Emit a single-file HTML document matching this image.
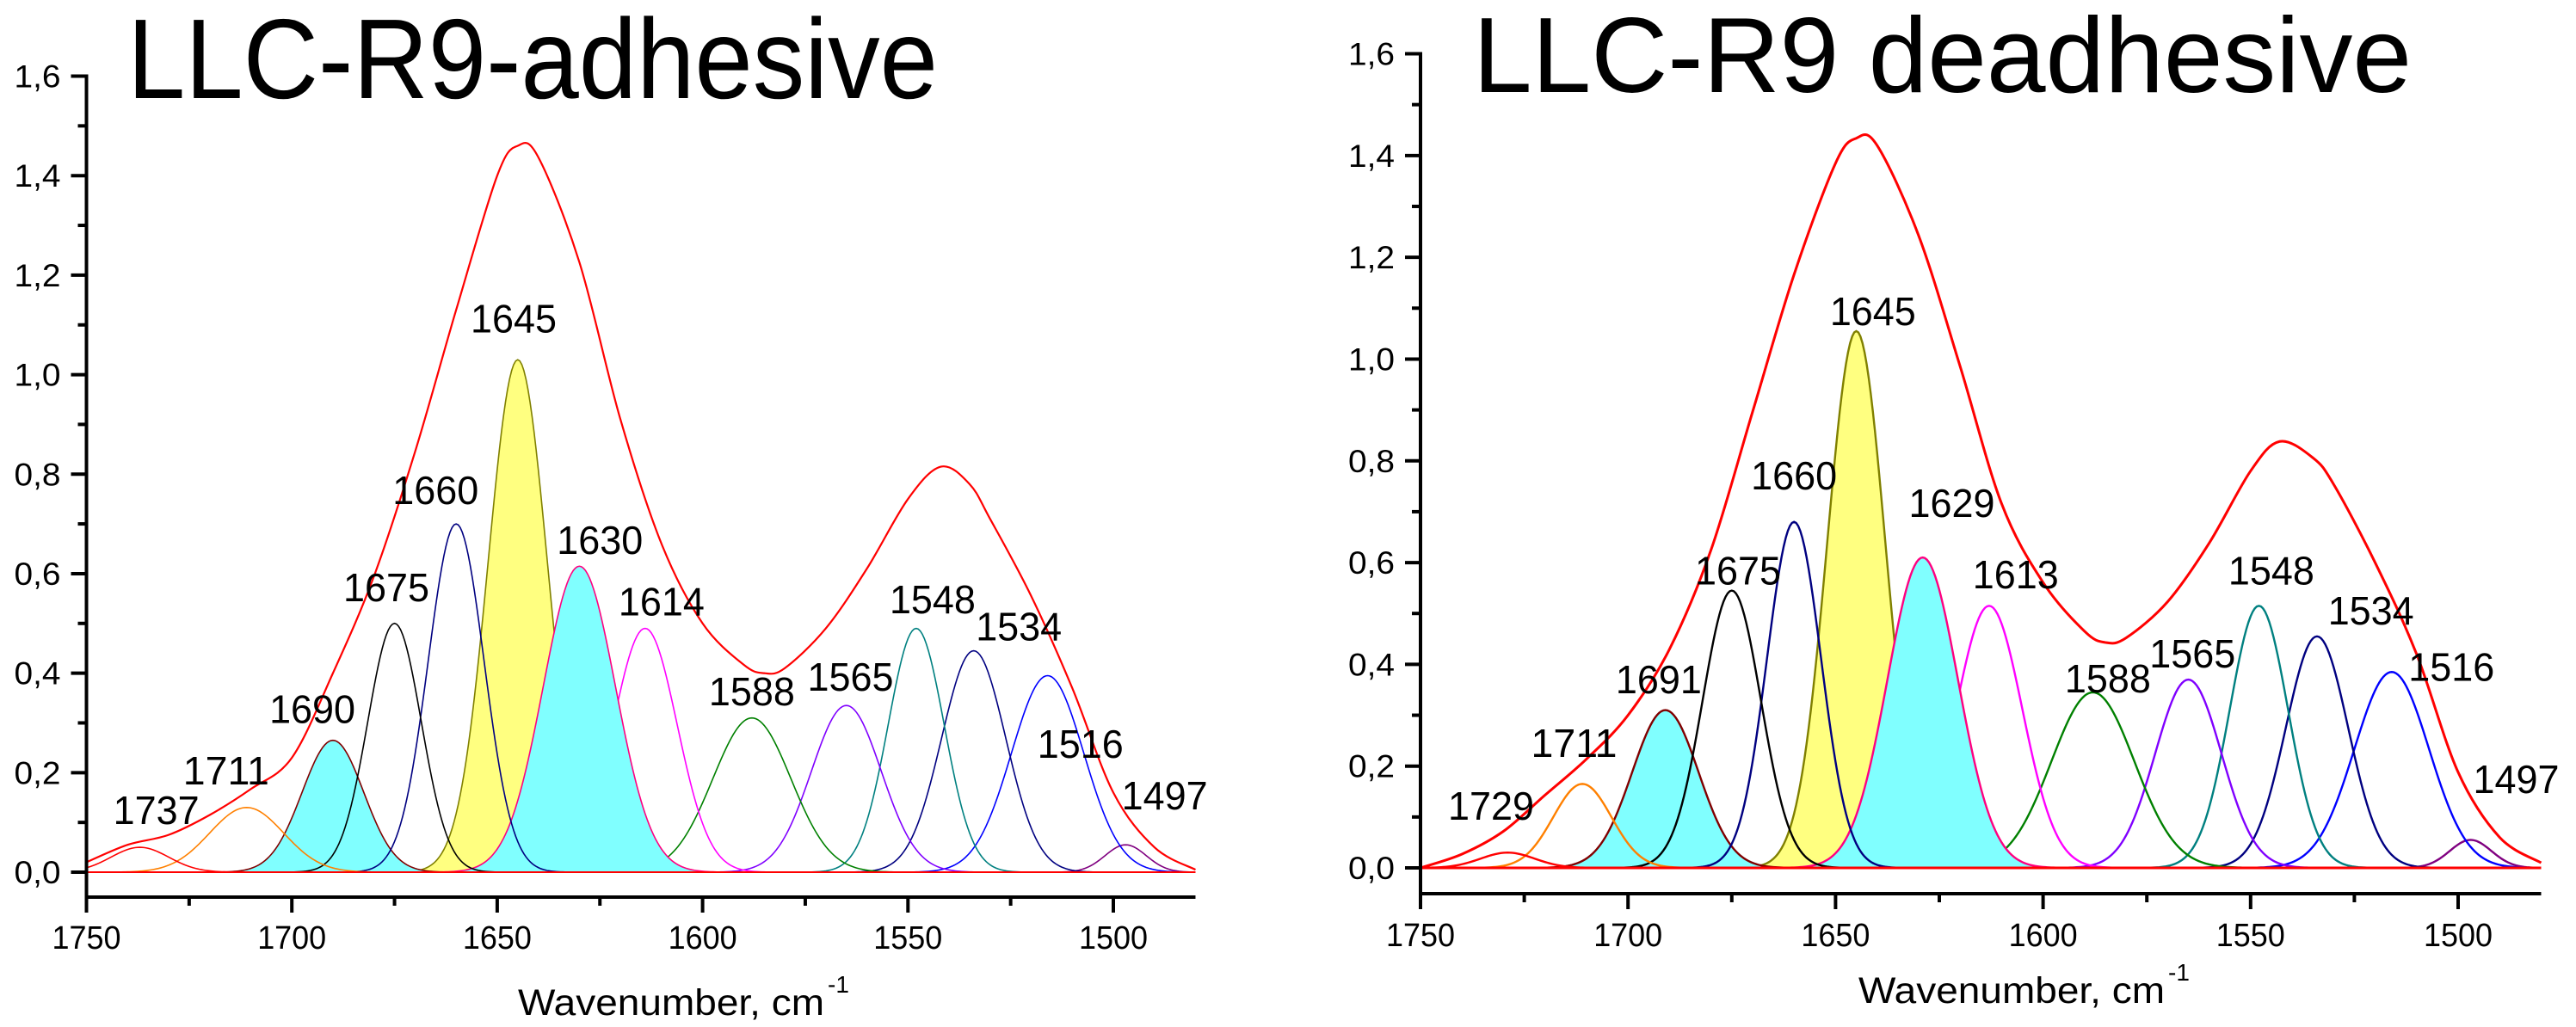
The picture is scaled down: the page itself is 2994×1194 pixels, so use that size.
<!DOCTYPE html>
<html><head><meta charset="utf-8"><title>LLC-R9 FTIR deconvolution</title>
<style>
html,body{margin:0;padding:0;background:#fff;}
svg{display:block;font-family:"Liberation Sans",Arial,sans-serif;}
</style></head>
<body>
<svg id="root" xmlns="http://www.w3.org/2000/svg" width="2994" height="1194" viewBox="0 0 2994 1194">
<rect x="0" y="0" width="2994" height="1194" fill="#fff"/>
</svg>
<script>
// ---- Data: left chart (adhesive) ----
const leftCenters = [1737, 1711, 1690, 1675, 1660, 1645, 1630, 1614, 1588, 1565, 1548, 1534, 1516, 1497];
const leftHeights = [0.05, 0.13, 0.265, 0.50, 0.70, 1.03, 0.615, 0.49, 0.31, 0.335, 0.49, 0.445, 0.395, 0.055];
const leftSigmas = [7, 9, 7.5, 6.5, 6.8, 7.2, 8.8, 7.8, 9.5, 8.5, 6.8, 7.8, 8.8, 5];
const leftLabels = ["1737", "1711", "1690", "1675", "1660", "1645", "1630", "1614", "1588", "1565", "1548", "1534", "1516", "1497"];
const leftLabelX = [1733, 1716, 1695, 1677, 1665, 1646, 1625, 1610, 1588, 1564, 1544, 1523, 1508, 1487.5];
const leftLabelY = [0.097, 0.176, 0.30, 0.545, 0.74, 1.085, 0.64, 0.516, 0.335, 0.365, 0.52, 0.466, 0.23, 0.126];
const leftEnvW = [1750, 1740, 1730, 1720, 1710, 1700, 1690, 1680, 1670, 1660, 1650, 1645, 1640, 1630, 1620, 1610, 1600, 1590, 1585, 1580, 1570, 1560, 1550, 1542, 1535, 1530, 1520, 1510, 1500, 1490, 1480];
const leftEnvV = [0.02, 0.055, 0.075, 0.115, 0.167, 0.23, 0.40, 0.595, 0.845, 1.13, 1.40, 1.46, 1.437, 1.226, 0.91, 0.66, 0.50, 0.417, 0.40, 0.41, 0.49, 0.61, 0.75, 0.815, 0.78, 0.71, 0.555, 0.37, 0.16, 0.05, 0.005];
// ---- Data: right chart (deadhesive) ----
const rightCenters = [1729, 1711, 1691, 1675, 1660, 1645, 1629, 1613, 1588, 1565, 1548, 1534, 1516, 1497];
const rightHeights = [0.03, 0.165, 0.31, 0.545, 0.68, 1.055, 0.61, 0.515, 0.345, 0.37, 0.515, 0.455, 0.385, 0.055];
const rightSigmas = [6.5, 7, 8, 7, 6.5, 7, 8.5, 8, 10, 8, 7, 7.5, 9, 5];
const rightLabels = ["1729", "1711", "1691", "1675", "1660", "1645", "1629", "1613", "1588", "1565", "1548", "1534", "1516", "1497"];
const rightLabelX = [1733, 1713, 1692.6, 1673.5, 1660, 1641, 1622, 1606.6, 1584.4, 1564, 1545, 1521, 1501.6, 1486];
const rightLabelY = [0.095, 0.218, 0.343, 0.557, 0.744, 1.067, 0.69, 0.549, 0.345, 0.394, 0.557, 0.478, 0.368, 0.147];
const rightEnvW = [1750, 1740, 1730, 1720, 1710, 1700, 1690, 1680, 1670, 1660, 1650, 1645, 1640, 1630, 1620, 1610, 1600, 1590, 1585, 1580, 1570, 1560, 1550, 1543, 1535, 1530, 1520, 1510, 1500, 1490, 1480];
const rightEnvV = [0.0, 0.027, 0.072, 0.143, 0.214, 0.30, 0.43, 0.625, 0.896, 1.166, 1.385, 1.434, 1.42, 1.243, 0.986, 0.716, 0.561, 0.465, 0.443, 0.452, 0.523, 0.638, 0.78, 0.838, 0.806, 0.754, 0.60, 0.42, 0.188, 0.06, 0.01];
// ---- Axis ticks ----
const yTickValues = [0, 0.2, 0.4, 0.6, 0.8, 1.0, 1.2, 1.4, 1.6];
const yTickLabels = ["0,0", "0,2", "0,4", "0,6", "0,8", "1,0", "1,2", "1,4", "1,6"];
const xTickValues = [1750, 1700, 1650, 1600, 1550, 1500];
const xTickLabels = ["1750", "1700", "1650", "1600", "1550", "1500"];
const xMinorValues = [1725, 1675, 1625, 1575, 1525];
const yMinorValues = [0.1, 0.3, 0.5, 0.7, 0.9, 1.1, 1.3, 1.5];

const lineColors = ['#ff0000','#ff8000','#800000','#000000','#000080','#808000','#ff0080','#ff00ff','#008000','#8000ff','#008080','#000080','#0000ff','#800080'];
const fillColors = [null,null,'#80ffff',null,null,'#ffff80','#80ffff',null,null,null,null,null,null,null];
const drawOrder = [13,12,11,10,9,8,7,5,6,2,4,3,1,0];

const NS = 'http://www.w3.org/2000/svg';
const root = document.getElementById('root');

function mk(tag, attrs, parent) {
  const e = document.createElementNS(NS, tag);
  for (const k in attrs) e.setAttribute(k, attrs[k]);
  parent.appendChild(e);
  return e;
}

function smoothPath(pts) {
  let d = 'M' + pts[0][0].toFixed(2) + ' ' + pts[0][1].toFixed(2);
  for (let i = 0; i < pts.length - 1; i++) {
    const p0 = pts[Math.max(0, i - 1)], p1 = pts[i], p2 = pts[i + 1], p3 = pts[Math.min(pts.length - 1, i + 2)];
    const c1x = p1[0] + (p2[0] - p0[0]) / 6, c1y = p1[1] + (p2[1] - p0[1]) / 6;
    const c2x = p2[0] - (p3[0] - p1[0]) / 6, c2y = p2[1] - (p3[1] - p1[1]) / 6;
    d += 'C' + c1x.toFixed(2) + ' ' + c1y.toFixed(2) + ' ' + c2x.toFixed(2) + ' ' + c2y.toFixed(2) + ' ' + p2[0].toFixed(2) + ' ' + p2[1].toFixed(2);
  }
  return d;
}

function drawChart(cfg) {
  const g = mk('g', {}, root);
  
  
  const xs = w => cfg.x0 + (1750 - w) * (cfg.x1 - cfg.x0) / 250;
  const ys = v => cfg.y0 - v * (cfg.y0 - cfg.y16) / 1.6;
  const wMin = 1480;
  const gauss = (i, w) => cfg.heights[i] * Math.exp(-Math.pow(w - cfg.centers[i], 2) / (2 * cfg.sigmas[i] * cfg.sigmas[i]));
  const samples = [];
  for (let w = 1750; w >= wMin - 0.001; w -= 0.5) samples.push(w);

  drawOrder.forEach(i => {
    let d = '';
    samples.forEach((w, k) => { d += (k ? 'L' : 'M') + xs(w).toFixed(2) + ' ' + ys(gauss(i, w)).toFixed(2); });
    if (fillColors[i]) {
      const f = mk('path', {d: d + 'L' + xs(wMin) + ' ' + ys(0) + 'L' + xs(1750) + ' ' + ys(0) + 'Z', fill: fillColors[i], stroke: 'none'}, g);
      
      
    }
    const p = mk('path', {d: d, fill: 'none', stroke: lineColors[i], 'stroke-width': cfg.lw}, g);
    
    
  });
  const bl = mk('line', {x1: xs(1750), y1: ys(0), x2: xs(wMin), y2: ys(0), stroke: '#ff0000', 'stroke-width': cfg.lw + 0.5}, g);
  
  
  const pts = cfg.envW.map((w, k) => [xs(w), ys(cfg.envV[k])]);
  const ed = smoothPath(pts);
  const env = mk('path', {d: ed, fill: 'none', stroke: '#ff0000', 'stroke-width': cfg.lw + 0.6}, g);
  
  

  const ya = mk('line', {x1: cfg.x0, y1: cfg.y16 - 2, x2: cfg.x0, y2: cfg.yAxis + 2, stroke: '#000', 'stroke-width': 4}, g);
  
  
  const xa = mk('line', {x1: cfg.x0 - 2, y1: cfg.yAxis, x2: xs(wMin), y2: cfg.yAxis, stroke: '#000', 'stroke-width': 4}, g);
  
  
  yTickValues.forEach((v, k) => {
    const t = mk('line', {x1: cfg.x0 - 18, y1: ys(v), x2: cfg.x0, y2: ys(v), stroke: '#000', 'stroke-width': 4}, g);
    
    
    const tl = mk('text', {x: cfg.x0 - 30, y: ys(v) + 13, 'font-size': 37, 'text-anchor': 'end', fill: '#000', textLength: 54, lengthAdjust: 'spacingAndGlyphs'}, g);
    tl.textContent = yTickLabels[k];
    
    
  });
  yMinorValues.forEach(v => {
    const t = mk('line', {x1: cfg.x0 - 10, y1: ys(v), x2: cfg.x0, y2: ys(v), stroke: '#000', 'stroke-width': 4}, g);
    
    
  });
  xTickValues.forEach((v, k) => {
    const t = mk('line', {x1: xs(v), y1: cfg.yAxis, x2: xs(v), y2: cfg.yAxis + 18, stroke: '#000', 'stroke-width': 4}, g);
    
    
    const tl = mk('text', {x: xs(v), y: cfg.xLabelY, 'font-size': 38, 'text-anchor': 'middle', fill: '#000', textLength: 80, lengthAdjust: 'spacingAndGlyphs'}, g);
    tl.textContent = xTickLabels[k];
    
    
  });
  xMinorValues.forEach(v => {
    const t = mk('line', {x1: xs(v), y1: cfg.yAxis, x2: xs(v), y2: cfg.yAxis + 10, stroke: '#000', 'stroke-width': 4}, g);
    
    
  });
  cfg.labels.forEach((s, i) => {
    const t = mk('text', {x: xs(cfg.labelX[i]), y: ys(cfg.labelY[i]), 'font-size': 46, 'text-anchor': 'middle', fill: '#000', textLength: 100, lengthAdjust: 'spacingAndGlyphs'}, g);
    t.textContent = s;
    
    
  });
  const at = mk('text', {x: cfg.atX, y: cfg.atY, 'font-size': 43, fill: '#000', textLength: 356, lengthAdjust: 'spacingAndGlyphs'}, g);
  at.textContent = 'Wavenumber, cm';
  
  
  const sup = mk('text', {x: cfg.atX + 360, y: cfg.atY - 26, 'font-size': 28, fill: '#000'}, g);
  sup.textContent = '-1';
  
  
  const tt = mk('text', {x: cfg.titleX, y: cfg.titleY, 'font-size': cfg.titleSize, fill: '#000', textLength: cfg.titleW, lengthAdjust: 'spacingAndGlyphs'}, g);
  tt.textContent = cfg.title;
  
  
}

drawChart({name: 'adhesive-chart', x0: 100.5, x1: 1294, y0: 1014, y16: 88.5, yAxis: 1043, xLabelY: 1103, lw: 1.6,
  centers: leftCenters, heights: leftHeights, sigmas: leftSigmas, labels: leftLabels, labelX: leftLabelX, labelY: leftLabelY,
  envW: leftEnvW, envV: leftEnvV,
  atX: 602, atY: 1180, title: 'LLC-R9-adhesive', titleX: 148, titleY: 114, titleSize: 132, titleW: 942});
drawChart({name: 'deadhesive-chart', x0: 1651, x1: 2857, y0: 1009, y16: 62.5, yAxis: 1039, xLabelY: 1100, lw: 2.4,
  centers: rightCenters, heights: rightHeights, sigmas: rightSigmas, labels: rightLabels, labelX: rightLabelX, labelY: rightLabelY,
  envW: rightEnvW, envV: rightEnvV,
  atX: 2160, atY: 1166, title: 'LLC-R9 deadhesive', titleX: 1712, titleY: 107, titleSize: 124, titleW: 1091});
</script>
</body></html>
